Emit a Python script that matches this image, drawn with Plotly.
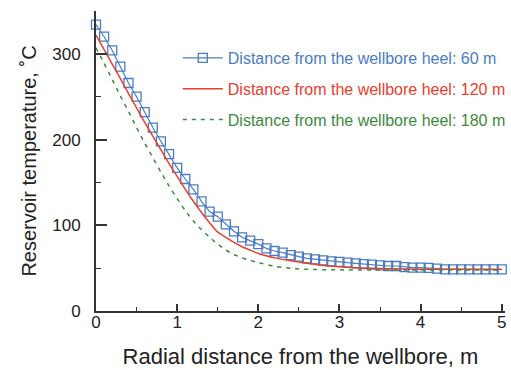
import plotly.graph_objects as go

# Blue series: distance from heel 60 m (0.1 m steps)
x_blue = [round(i * 0.1, 1) for i in range(51)]
y_blue = [334, 320, 304, 285, 266, 250, 232, 214, 198, 183,
          167, 154, 142, 128, 116, 110, 101, 93, 86, 82,
          78, 73, 70, 68, 65.3, 63.4, 61.5, 60.3, 59.1, 58,
          57.2, 56.4, 55.6, 54.8, 54, 53.3, 52.5, 52.5, 51.3, 50.5,
          50.5, 50.2, 49.4, 48.6, 48.6, 48.6, 48.6, 48.6, 48.6, 48.6, 48.6]

# Red series: 120 m
x_red = [0, 0.1, 0.2, 0.3, 0.4, 0.5, 0.6, 0.7, 0.8, 0.9, 1.0, 1.1, 1.2, 1.3, 1.4, 1.5,
         1.6, 1.7, 1.8, 1.9, 2.0, 2.2, 2.4, 2.6, 2.8, 3.0, 3.2, 3.4, 3.6, 4.0, 4.5, 5.0]
y_red = [322, 305, 288, 271, 254, 237, 220, 204, 188, 172, 157, 142, 128, 115, 103, 92,
         86, 80, 75, 71, 67, 62, 58.5, 55.6, 53, 51.5, 50.5, 49.8, 49.3, 48.8, 48.6, 48.5]

# Green series: 180 m
x_green = [0, 0.1, 0.2, 0.3, 0.4, 0.5, 0.6, 0.7, 0.8, 0.9, 1.0, 1.1, 1.2, 1.3, 1.4, 1.5,
           1.6, 1.7, 1.8, 1.9, 2.0, 2.2, 2.4, 2.6, 3.0, 4.0, 5.0]
y_green = [307, 289, 270, 251, 233, 214, 196, 179, 162, 146, 131, 117, 105, 95, 86, 78,
           71, 66, 62, 59, 56.5, 52, 49.8, 48.6, 48, 47.8, 47.8]

names = ["Distance from the wellbore heel: 60 m",
         "Distance from the wellbore heel: 120 m",
         "Distance from the wellbore heel: 180 m"]

BLUE = "#4A7CC4"
RED = "#E8402E"
GREEN = "#3C8A3C"

fig = go.Figure()
fig.add_trace(go.Scatter(
    x=x_blue, y=y_blue, mode="lines+markers",
    name=f"<span style='color:{BLUE}'>{names[0]}</span>",
    line=dict(color=BLUE, width=1.2),
    marker=dict(symbol="square-open", size=9, color=BLUE, line=dict(width=1.3)),
    cliponaxis=False, legendgroup="a"))
fig.add_trace(go.Scatter(
    x=x_red, y=y_red, mode="lines",
    name=f"<span style='color:{RED}'>{names[1]}</span>",
    line=dict(color=RED, width=1.5, shape="spline", smoothing=0.6),
    cliponaxis=False, legendgroup="b"))
fig.add_trace(go.Scatter(
    x=x_green, y=y_green, mode="lines",
    name=f"<span style='color:{GREEN}'>{names[2]}</span>",
    line=dict(color=GREEN, width=1.5, dash="4px,5px", shape="spline", smoothing=0.6),
    cliponaxis=False, legendgroup="c"))

AX = "#333333"
fig.update_layout(
    width=511, height=370,
    margin=dict(l=96, r=6, t=11, b=59, autoexpand=False),
    paper_bgcolor="white", plot_bgcolor="white",
    font=dict(family="Liberation Sans, Arial, sans-serif", size=17, color="#222222"),
    showlegend=True,
    legend=dict(x=0.2, y=0.9, xanchor="left", yanchor="top",
                bgcolor="rgba(0,0,0,0)", font=dict(size=16),
                tracegroupgap=7, itemwidth=40),
    xaxis=dict(range=[0, 5.04], showgrid=False, zeroline=False,
               showline=True, linecolor=AX, linewidth=1.8,
               ticks="inside", ticklen=7, tickwidth=1.5, tickcolor=AX,
               tickvals=[0, 1, 2, 3, 4, 5], ticklabelstandoff=-5,
               minor=dict(ticks="inside", ticklen=4, tickwidth=1.2, tickcolor=AX, dtick=0.5),
               title=dict(text="Radial distance from the wellbore, m",
                          font=dict(size=22), standoff=17)),
    yaxis=dict(range=[0, 350], showgrid=False, zeroline=False,
               showline=True, linecolor=AX, linewidth=1.8,
               ticks="inside", ticklen=11, tickwidth=1.5, tickcolor=AX,
               tickvals=[0, 100, 200, 300], ticklabelstandoff=10,
               minor=dict(ticks="inside", ticklen=5, tickwidth=1.2, tickcolor=AX, dtick=50),
               title=dict(text="Reservoir temperature, ˚C",
                          font=dict(size=20), standoff=10)),
)

fig.write_html("out.html")
